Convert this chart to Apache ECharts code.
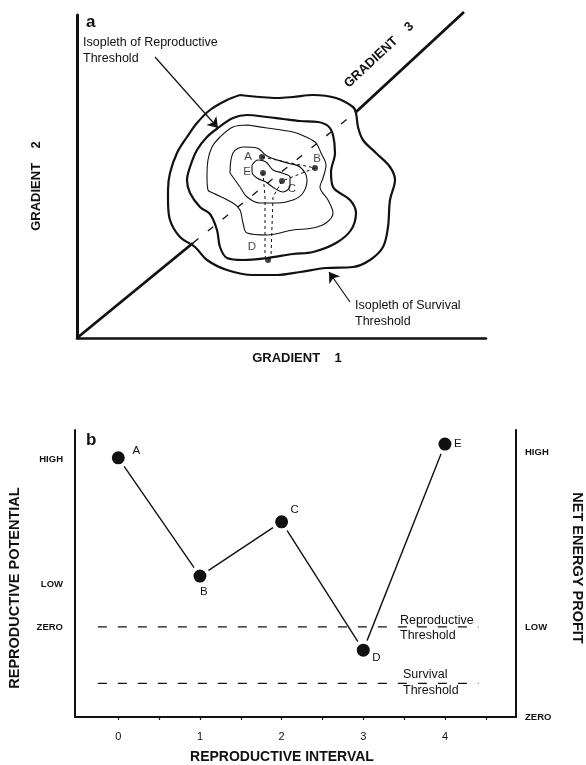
<!DOCTYPE html>
<html>
<head>
<meta charset="utf-8">
<script src="https://cdn.jsdelivr.net/npm/echarts@6.0.0/dist/echarts.min.js"></script>
<style>
html, body { margin: 0; padding: 0; background: #fff; }
#main { width: 586px; height: 765px; }
</style>
</head>
<body>
<div id="main"></div>
<script>
// ---- panel a : isopleths in gradient space (gradient 1 / gradient 2 units) ----
const survivalIsopleth = [[163,243],[183,241],[200,240],[216,241],[236,243],[259,240],[276,231],[279,225],[281,211],[286,198],[299,185],[313,171],[318,158],[313,138],[311,111],[306,91],[293,78],[276,71],[249,70],[223,66],[200,63],[176,63],[150,68],[130,78],[118,91],[103,101],[93,118],[91,138],[91,148],[93,165],[100,185],[110,201],[120,215],[133,228],[150,238],[163,243]];
const reproductiveIsopleth = [[141,210],[156,220],[170,223],[190,221],[206,219],[223,217],[241,216],[251,212],[256,203],[258,185],[254,166],[256,151],[273,138],[279,125],[274,108],[259,95],[236,86],[216,84],[190,80],[166,78],[150,80],[143,91],[140,108],[133,124],[123,131],[113,145],[110,158],[113,171],[120,188],[130,201],[141,210]];
const isopleth3 = [[171,213],[156,211],[143,201],[135,191],[131,178],[130,161],[131,148],[136,145],[156,135],[163,128],[166,115],[170,105],[190,103],[216,108],[236,110],[249,115],[256,125],[251,138],[243,151],[246,160],[249,173],[244,185],[239,195],[229,201],[216,206],[190,210],[171,213]];
const isopleth4 = [[153,165],[156,185],[166,191],[180,190],[190,182],[210,175],[223,171],[230,158],[226,145],[216,138],[200,135],[183,135],[170,141],[163,151],[153,165]];
const isopleth5 = [[175,173],[181,178],[189,176],[196,168],[205,165],[213,161],[213,152],[206,146],[197,150],[189,156],[180,160],[175,166],[175,173]];
const gradient3Axis = [[0,0],[116,95],[279,226],[387,326]];
const gradientPoints = [[185,181],[238,170],[205,157],[191,78],[186,165]];
const trajectory = [[185,181],[238,170],[205,157],[196,141],[194,82],[191,78],[188,82],[188,141],[186,165]];
const reproArrow = [[78,281],[141,210]];
const survivalArrow = [[273,36],[252,66]];

// ---- panel b ----
const pointNames = ['A', 'B', 'C', 'D', 'E'];
const intervals = [0, 1, 2, 3, 4];
const netEnergy = [90.3, 49.1, 68.0, 23.3, 95.1];
const reproThreshold = 31.4;
const survivalThreshold = 11.7;
const thresholdSpan = [-0.25, 4.41];
const intervalTicks = [0, 0.5, 1, 1.5, 2, 2.5, 3, 3.5, 4, 4.5];
const potentialLevels = [31.4, 46.2, 89.8];
const potentialNames = ['ZERO', 'LOW', 'HIGH'];
const profitLevels = [0, 31.4, 92.2];
const profitNames = ['ZERO', 'LOW', 'HIGH'];

const ink = '#111';
const fam = 'Liberation Sans, Arial, sans-serif';

// label offsets (px) next to each dot
const offsetsA = [[-14,0],[2,-9],[10,8],[-16,-13],[-16,-1]];
const offsetsB = [[18,-7],[4,16],[13,-12],[13,8],[13,0]];

const nameOf = (levels, names) => v => {
	let best = 0;
	levels.forEach((l, i) => { if (Math.abs(l - v) < Math.abs(levels[best] - v)) best = i; });
	return names[best];
};

const curve = (data, width, type, smooth) => ({
	type: 'line', xAxisIndex: 0, yAxisIndex: 0, data: data,
	symbol: 'none', smooth: smooth || false, silent: true, clip: false,
	lineStyle: { color: ink, width: width, type: type || 'solid' }
});

const txt = (text, x, y, opt) => Object.assign({
	type: 'text', x: x, y: y, silent: true,
	style: Object.assign({
		text: text, fill: ink, fontFamily: fam, fontSize: 12.5,
		align: 'left', textAlign: 'left', verticalAlign: 'middle', textVerticalAlign: 'middle'
	}, opt && opt.style)
}, opt && opt.el);

const center = { align: 'center', textAlign: 'center' };
const gradFont = Object.assign({ fontSize: 13, fontWeight: 'bold' }, center);
const nameFont = Object.assign({ fontSize: 14.5, fontWeight: 'bold' }, center);

var chart = echarts.init(document.getElementById('main'));
var option = {
	animation: false,
	backgroundColor: '#fff',
	grid: [
		{ left: 77, top: 15, width: 409, height: 323 },
		{ left: 75, top: 430, width: 441, height: 287 }
	],
	xAxis: [
		{
			type: 'value', gridIndex: 0, min: 0, max: 409,
			axisLine: { onZero: false, lineStyle: { color: ink, width: 2.5 } },
			axisTick: { show: false }, axisLabel: { show: false }, splitLine: { show: false }
		},
		{
			type: 'value', gridIndex: 1, min: -0.53, max: 4.87,
			axisLine: { onZero: false, lineStyle: { color: ink, width: 2 } },
			axisTick: { show: true, customValues: intervalTicks, length: 3, lineStyle: { color: ink, width: 1.2 } },
			axisLabel: { customValues: intervals, color: ink, fontSize: 11, fontFamily: fam, margin: 14 },
			splitLine: { show: false }
		}
	],
	yAxis: [
		{
			type: 'value', gridIndex: 0, min: 0, max: 323,
			axisLine: { show: true, onZero: false, lineStyle: { color: ink, width: 3 } },
			axisTick: { show: false }, axisLabel: { show: false }, splitLine: { show: false }
		},
		{
			type: 'value', gridIndex: 1, min: 0, max: 100, position: 'left',
			axisLine: { show: true, onZero: false, lineStyle: { color: ink, width: 2 } },
			axisTick: { show: false }, splitLine: { show: false },
			axisLabel: {
				customValues: potentialLevels, formatter: nameOf(potentialLevels, potentialNames),
				color: ink, fontSize: 9.5, fontWeight: 'bold', fontFamily: fam, margin: 12
			}
		},
		{
			type: 'value', gridIndex: 1, min: 0, max: 100, position: 'right',
			axisLine: { show: true, onZero: false, lineStyle: { color: ink, width: 2 } },
			axisTick: { show: false }, splitLine: { show: false },
			axisLabel: {
				customValues: profitLevels, formatter: nameOf(profitLevels, profitNames),
				color: ink, fontSize: 9.5, fontWeight: 'bold', fontFamily: fam, margin: 9
			}
		}
	],
	series: [
		// panel a
		curve(survivalIsopleth, 2.2, 'solid', 0.35),
		curve(reproductiveIsopleth, 2.2, 'solid', 0.35),
		curve(isopleth3, 1.1, 'solid', 0.35),
		curve(isopleth4, 1.1, 'solid', 0.35),
		curve(isopleth5, 1.1, 'solid', 0.35),
		curve(gradient3Axis.slice(0, 2), 2.8),
		curve(gradient3Axis.slice(1, 3), 1.3, [7, 12]),
		curve(gradient3Axis.slice(2, 4), 2.8),
		curve(trajectory, 1, [3, 3]),
		{
			type: 'lines', coordinateSystem: 'cartesian2d', xAxisIndex: 0, yAxisIndex: 0, silent: true,
			symbol: ['none', 'arrow'], symbolSize: 10,
			lineStyle: { color: ink, width: 1.2, opacity: 1 },
			data: [{ coords: reproArrow }, { coords: survivalArrow }]
		},
		{
			type: 'scatter', xAxisIndex: 0, yAxisIndex: 0, silent: true, symbolSize: 6,
			itemStyle: { color: ink },
			label: {
				show: true, position: 'inside', color: ink, fontSize: 11.5, fontFamily: fam,
				formatter: p => pointNames[p.dataIndex]
			},
			data: gradientPoints.map((p, i) => ({ value: p, label: { offset: offsetsA[i] } }))
		},
		// panel b
		{
			type: 'line', xAxisIndex: 1, yAxisIndex: 1, silent: true, symbol: 'none', z: 1,
			lineStyle: { color: ink, width: 1.3, type: [9, 11] },
			data: [[thresholdSpan[0], reproThreshold], [thresholdSpan[1], reproThreshold]]
		},
		{
			type: 'line', xAxisIndex: 1, yAxisIndex: 1, silent: true, symbol: 'none', z: 1,
			lineStyle: { color: ink, width: 1.3, type: [9, 11] },
			data: [[thresholdSpan[0], survivalThreshold], [thresholdSpan[1], survivalThreshold]]
		},
		{
			type: 'line', xAxisIndex: 1, yAxisIndex: 1, silent: true, z: 3,
			symbol: 'circle', symbolSize: 17,
			itemStyle: { color: ink, borderColor: '#fff', borderWidth: 4 },
			lineStyle: { color: ink, width: 1.4 },
			label: {
				show: true, position: 'inside', color: ink, fontSize: 11.5, fontFamily: fam,
				formatter: p => pointNames[p.dataIndex]
			},
			data: intervals.map((x, i) => ({ value: [x, netEnergy[i]], label: { offset: offsetsB[i] } }))
		}
	],
	graphic: [
		txt('a', 86, 22, { style: { fontSize: 17, fontWeight: 'bold' } }),
		txt('Isopleth of Reproductive\nThreshold', 83, 51, { style: { lineHeight: 16 } }),
		txt('Isopleth of Survival\nThreshold', 355, 314, { style: { lineHeight: 16 } }),
		txt('GRADIENT    1', 297, 358, { style: gradFont }),
		txt('GRADIENT    2', 36, 186, { style: gradFont, el: { rotation: Math.PI / 2 } }),
		txt('GRADIENT    3', 379, 55, { style: gradFont, el: { rotation: 43 * Math.PI / 180 } }),
		txt('b', 86, 440, { style: { fontSize: 17, fontWeight: 'bold' } }),
		txt('Reproductive\nThreshold', 400, 628, { style: { lineHeight: 15 } }),
		txt('Survival\nThreshold', 403, 683, { style: { lineHeight: 16 } }),
		txt('REPRODUCTIVE POTENTIAL', 15, 588, { style: nameFont, el: { rotation: Math.PI / 2 } }),
		txt('NET ENERGY PROFIT', 577, 568, { style: nameFont, el: { rotation: -Math.PI / 2 } }),
		txt('REPRODUCTIVE INTERVAL', 282, 757, { style: Object.assign({}, nameFont, { fontSize: 14 }) })
	]
};
option && chart.setOption(option);
</script>
</body>
</html>
